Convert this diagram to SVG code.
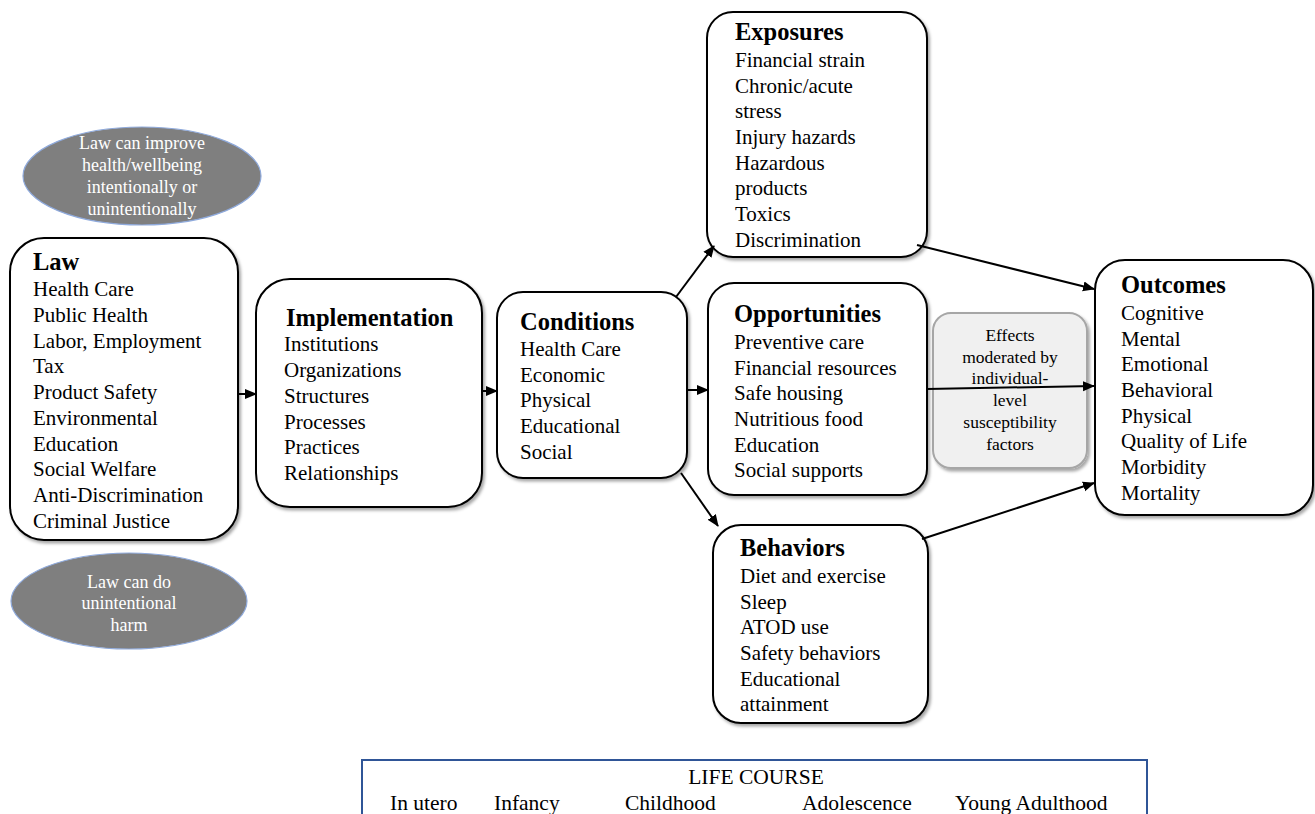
<svg xmlns="http://www.w3.org/2000/svg" width="1315" height="814" viewBox="0 0 1315 814">
<style>
.box{fill:#fff;stroke:#000;stroke-width:2;filter:url(#sh)}
.t{font-family:"Liberation Serif","Times New Roman",serif;font-size:21px;fill:#000}
.h{font-family:"Liberation Serif","Times New Roman",serif;font-size:24.5px;font-weight:bold;fill:#000}
.ell{fill:#7f7f7f;stroke:#8faadc;stroke-width:1.2}
.et{font-family:"Liberation Serif","Times New Roman",serif;font-size:18px;fill:#fff;text-anchor:middle}
.ef{font-family:"Liberation Serif","Times New Roman",serif;font-size:17.5px;fill:#000;text-anchor:middle}
.lc{font-family:"Liberation Serif","Times New Roman",serif;font-size:21.5px;fill:#000}
.c{stroke:#000;stroke-width:2;fill:none;marker-end:url(#ah)}
</style>
<defs>
<filter id="sh" x="-10%" y="-10%" width="120%" height="120%">
<feDropShadow dx="2" dy="2.5" stdDeviation="1.5" flood-color="#000" flood-opacity="0.35"/>
</filter>
<marker id="ah" markerWidth="12" markerHeight="12" refX="11" refY="6" orient="auto" markerUnits="userSpaceOnUse">
<path d="M0,1 L12,6 L0,11 Z" fill="#000"/>
</marker>
</defs>
<rect width="1315" height="814" fill="#fff"/>

<g id="ellipse-improve">
<ellipse class="ell" cx="142" cy="176" rx="119" ry="49"/>
<text class="et" x="142" y="149">Law can improve</text>
<text class="et" x="142" y="171">health/wellbeing</text>
<text class="et" x="142" y="193">intentionally or</text>
<text class="et" x="142" y="215">unintentionally</text>
</g>

<g id="ellipse-harm">
<ellipse class="ell" cx="129" cy="601" rx="118" ry="48"/>
<text class="et" x="129" y="588">Law can do</text>
<text class="et" x="129" y="609">unintentional</text>
<text class="et" x="129" y="631">harm</text>
</g>

<g id="law">
<rect class="box" x="10" y="238" width="228" height="302" rx="34"/>
<text class="h" x="33" y="270">Law</text>
<text class="t" x="33" y="296">Health Care</text>
<text class="t" x="33" y="322">Public Health</text>
<text class="t" x="33" y="348">Labor, Employment</text>
<text class="t" x="33" y="373">Tax</text>
<text class="t" x="33" y="399">Product Safety</text>
<text class="t" x="33" y="425">Environmental</text>
<text class="t" x="33" y="451">Education</text>
<text class="t" x="33" y="476">Social Welfare</text>
<text class="t" x="33" y="502">Anti-Discrimination</text>
<text class="t" x="33" y="528">Criminal Justice</text>
</g>

<g id="implementation">
<rect class="box" x="256" y="279" width="226" height="228" rx="34"/>
<text class="h" x="286" y="326">Implementation</text>
<text class="t" x="284" y="351">Institutions</text>
<text class="t" x="284" y="377">Organizations</text>
<text class="t" x="284" y="403">Structures</text>
<text class="t" x="284" y="429">Processes</text>
<text class="t" x="284" y="454">Practices</text>
<text class="t" x="284" y="480">Relationships</text>
</g>

<g id="conditions">
<rect class="box" x="497" y="292" width="190" height="186" rx="26"/>
<text class="h" x="520" y="330">Conditions</text>
<text class="t" x="520" y="356">Health Care</text>
<text class="t" x="520" y="382">Economic</text>
<text class="t" x="520" y="407">Physical</text>
<text class="t" x="520" y="433">Educational</text>
<text class="t" x="520" y="459">Social</text>
</g>

<g id="exposures">
<rect class="box" x="707" y="12" width="220" height="245" rx="26"/>
<text class="h" x="735" y="40">Exposures</text>
<text class="t" x="735" y="67">Financial strain</text>
<text class="t" x="735" y="93">Chronic/acute</text>
<text class="t" x="735" y="118">stress</text>
<text class="t" x="735" y="144">Injury hazards</text>
<text class="t" x="735" y="170">Hazardous</text>
<text class="t" x="735" y="195">products</text>
<text class="t" x="735" y="221">Toxics</text>
<text class="t" x="735" y="247">Discrimination</text>
</g>

<g id="opportunities">
<rect class="box" x="708" y="283" width="219" height="212" rx="26"/>
<text class="h" x="734" y="322">Opportunities</text>
<text class="t" x="734" y="349">Preventive care</text>
<text class="t" x="734" y="375">Financial resources</text>
<text class="t" x="734" y="400">Safe housing</text>
<text class="t" x="734" y="426">Nutritious food</text>
<text class="t" x="734" y="452">Education</text>
<text class="t" x="734" y="477">Social supports</text>
</g>

<g id="behaviors">
<rect class="box" x="713" y="525" width="215" height="198" rx="28"/>
<text class="h" x="740" y="556">Behaviors</text>
<text class="t" x="740" y="583">Diet and exercise</text>
<text class="t" x="740" y="609">Sleep</text>
<text class="t" x="740" y="634">ATOD use</text>
<text class="t" x="740" y="660">Safety behaviors</text>
<text class="t" x="740" y="686">Educational</text>
<text class="t" x="740" y="711">attainment</text>
</g>

<g id="effects">
<rect x="933" y="313" width="154" height="155" rx="18" fill="#f0f0f0" stroke="#a6a6a6" stroke-width="2" filter="url(#sh)"/>
<text class="ef" x="1010" y="341">Effects</text>
<text class="ef" x="1010" y="363">moderated by</text>
<text class="ef" x="1010" y="384">individual-</text>
<text class="ef" x="1010" y="406">level</text>
<text class="ef" x="1010" y="428">susceptibility</text>
<text class="ef" x="1010" y="450">factors</text>
</g>

<g id="outcomes">
<rect class="box" x="1095" y="260" width="218" height="255" rx="30"/>
<text class="h" x="1121" y="293">Outcomes</text>
<text class="t" x="1121" y="320">Cognitive</text>
<text class="t" x="1121" y="346">Mental</text>
<text class="t" x="1121" y="371">Emotional</text>
<text class="t" x="1121" y="397">Behavioral</text>
<text class="t" x="1121" y="423">Physical</text>
<text class="t" x="1121" y="448">Quality of Life</text>
<text class="t" x="1121" y="474">Morbidity</text>
<text class="t" x="1121" y="500">Mortality</text>
</g>

<g id="connectors">
<line class="c" x1="238" y1="394" x2="256" y2="394"/>
<line class="c" x1="482" y1="391" x2="497" y2="391"/>
<line class="c" x1="687" y1="390" x2="708" y2="390"/>
<line class="c" x1="676" y1="297" x2="714" y2="246"/>
<line class="c" x1="681" y1="473" x2="718" y2="526"/>
<line class="c" x1="917" y1="245" x2="1094" y2="289"/>
<line class="c" x1="927" y1="389" x2="1094" y2="386"/>
<line class="c" x1="922" y1="539" x2="1094" y2="483"/>
</g>

<g id="life-course">
<rect x="362" y="760" width="785" height="70" fill="#fff" stroke="#2f5597" stroke-width="2"/>
<text class="lc" x="756" y="784" text-anchor="middle">LIFE COURSE</text>
<text class="lc" x="390" y="810">In utero</text>
<text class="lc" x="494" y="810">Infancy</text>
<text class="lc" x="625" y="810">Childhood</text>
<text class="lc" x="802" y="810">Adolescence</text>
<text class="lc" x="955" y="810">Young Adulthood</text>
</g>
</svg>
